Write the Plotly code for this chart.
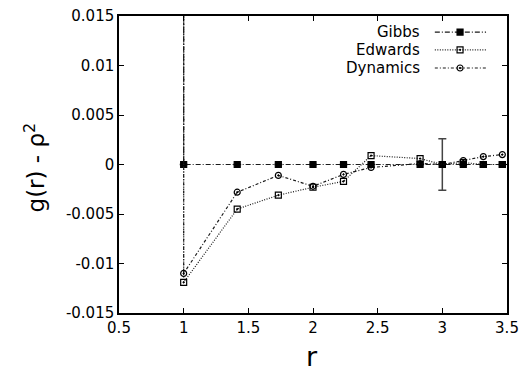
import plotly.graph_objects as go

# ---- data ----
r = [1.0, 1.0, 1.414, 1.732, 2.0, 2.236, 2.449, 2.828, 3.0, 3.162, 3.317, 3.464]
gibbs = [0.02, 0.0, 0.0, 0.0, 0.0, 0.0, 0.0, 0.0, 0.0, 0.0, 0.0, 0.0]
gibbs_err = [0, 0, 0, 0, 0, 0, 0, 0, 0.0026, 0, 0, 0]
edwards = [0.02, -0.0119, -0.0045, -0.0031, -0.0023, -0.0017, 0.0009, 0.0006, 0.0, 0.0002, 0.0, 0.0]
dynamics = [0.02, -0.0110, -0.0028, -0.0011, -0.0022, -0.0010, -0.0003, 0.0001, 0.0, 0.0004, 0.0008, 0.0010]

series_names = ["Gibbs", "Edwards", "Dynamics"]
x_ticks = [0.5, 1, 1.5, 2, 2.5, 3, 3.5]
x_ticklabels = ["0.5", "1", "1.5", "2", "2.5", "3", "3.5"]
y_ticks = [-0.015, -0.01, -0.005, 0, 0.005, 0.01, 0.015]
y_ticklabels = ["-0.015", "-0.01", "-0.005", "0", "0.005", "0.01", "0.015"]

FONT = "DejaVu Sans"
LC = "#1a1a1a"

styles = {
    "Gibbs": dict(dash="5px,2px,1px,2px", symbol="square", color="black"),
    "Edwards": dict(dash="1px,1.5px", symbol="square-open-dot", color="black"),
    "Dynamics": dict(dash="3px,2px,1px,2px", symbol="circle-open-dot", color="black"),
}

fig = go.Figure()
for name, ys in zip(series_names, [gibbs, edwards, dynamics]):
    st = styles[name]
    tr = dict(
        x=r, y=ys, mode="lines+markers", name=name, showlegend=False,
        line=dict(color=LC, width=1.2, dash=st["dash"], simplify=False),
        marker=dict(symbol=st["symbol"], size=6, color=st["color"],
                    line=dict(color="black", width=1.2)),
        cliponaxis=True,
    )
    if name == "Gibbs":
        tr["error_y"] = dict(type="data", array=gibbs_err, visible=True,
                             color="#444444", thickness=1.5, width=4)
    fig.add_trace(go.Scatter(**tr))

# legend samples (drawn on a hidden unit axis)
leg_y = [0.946, 0.886, 0.825]
for name, yy in zip(series_names, leg_y):
    st = styles[name]
    fig.add_trace(go.Scatter(
        x=[0.814, 0.946], y=[yy, yy], xaxis="x2", yaxis="y2", mode="lines",
        line=dict(color=LC, width=1.2, dash=st["dash"]), showlegend=False, hoverinfo="skip"))
    fig.add_trace(go.Scatter(
        x=[0.879], y=[yy], xaxis="x2", yaxis="y2", mode="markers",
        marker=dict(symbol=st["symbol"], size=6, color=st["color"],
                    line=dict(color="black", width=1.2)),
        showlegend=False, hoverinfo="skip"))
    fig.add_annotation(x=0.781, y=yy, xref="x2", yref="y2", text=name,
                       showarrow=False, xanchor="right", yanchor="middle",
                       font=dict(family=FONT, size=15, color="black"))

axis_common = dict(showgrid=False, zeroline=False, showline=True, linecolor="black",
                   linewidth=1.5, mirror="ticks", ticks="inside", ticklen=5,
                   tickcolor="black", tickwidth=1, automargin=False,
                   tickfont=dict(family=FONT, size=15, color="black"))

fig.update_layout(
    width=522, height=371, autosize=False,
    margin=dict(l=119, r=15, t=16, b=58, pad=0, autoexpand=False),
    paper_bgcolor="white", plot_bgcolor="white",
    xaxis=dict(range=[0.5, 3.5], tickvals=x_ticks, ticktext=x_ticklabels, **axis_common),
    yaxis=dict(range=[-0.015, 0.015], tickvals=y_ticks, ticktext=y_ticklabels, **axis_common),
    xaxis2=dict(range=[0, 1], overlaying="x", visible=False, fixedrange=True),
    yaxis2=dict(range=[0, 1], overlaying="y", visible=False, fixedrange=True),
    showlegend=False,
)

fig.add_annotation(x=0.497, y=-0.148, xref="paper", yref="paper", text="r",
                   showarrow=False, xanchor="center", yanchor="middle",
                   font=dict(family=FONT, size=27, color="black"))
fig.add_annotation(x=-0.2165, y=0.49, xref="paper", yref="paper",
                   text="g(r) - ρ<sup>2</sup>", textangle=-90,
                   showarrow=False, xanchor="center", yanchor="middle",
                   font=dict(family=FONT, size=23, color="black"))

fig.write_html("out.html")
